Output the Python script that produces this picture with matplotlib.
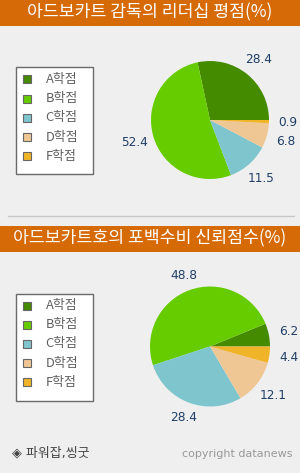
import numpy as np
import matplotlib.pyplot as plt
from matplotlib.patches import Rectangle

plt.rcParams['font.family'] = ['Noto Sans CJK KR', 'DejaVu Sans']

grades = ["A학점", "B학점", "C학점", "D학점", "F학점"]
colors = ["#458b00", "#66cc00", "#7ec5ce", "#efc795", "#f0b428"]

title1 = "아드보카트 감독의 리더십 평점(%)"
leader = [28.4, 52.4, 11.5, 6.8, 0.9]

title2 = "아드보카트호의 포백수비 신뢰점수(%)"
defense = [6.2, 48.8, 28.4, 12.1, 4.4]

W, H = 300, 473
BG = "#efefef"
ORANGE = "#d66a06"
LABEL = "#1f3f66"

fig = plt.figure(figsize=(W / 100, H / 100), dpi=100, facecolor=BG)

# full-figure overlay in pixel units
bg = fig.add_axes([0, 0, 1, 1])
bg.set_xlim(0, W)
bg.set_ylim(H, 0)
bg.axis("off")


def draw_block(title, values, top, cy, r, leg_top, leg_h):
    # title bar
    bg.add_patch(Rectangle((0, top), W, 26, color=ORANGE, lw=0))
    bg.text(W / 2, top + 12.5, title, color="white", fontsize=12.4,
            fontweight="medium", ha="center", va="center")

    # legend box
    bg.add_patch(Rectangle((16, leg_top), 77, leg_h, facecolor="white",
                           edgecolor="#6a6a6a", lw=1))
    for i, (g, c) in enumerate(zip(grades, colors)):
        y = leg_top + 12 + i * 19.2
        bg.add_patch(Rectangle((22.5, y - 4), 8, 8, facecolor=c,
                               edgecolor="#666666", lw=0.8))
        bg.text(45.5, y, g, color="#606060", fontsize=9.3,
                ha="left", va="center")

    # pie
    half = 100
    ax = fig.add_axes([(210 - half) / W, 1 - (cy + half) / H,
                       2 * half / W, 2 * half / H])
    lim = half / r
    wedges, _ = ax.pie(values, colors=colors, startangle=0,
                       counterclock=True, radius=1,
                       wedgeprops=dict(linewidth=0))
    ax.set_xlim(-lim, lim)
    ax.set_ylim(-lim, lim)
    ax.set_aspect("equal")
    ax.axis("off")
    for w, v in zip(wedges, values):
        a = np.deg2rad((w.theta1 + w.theta2) / 2)
        d = 1.12 + 0.2 * abs(np.cos(a)) + 0.085 * abs(np.sin(a))
        ax.text(d * np.cos(a), d * np.sin(a), f"{v:.1f}", color=LABEL,
                fontsize=8.7, family="DejaVu Sans", ha="center", va="center")


draw_block(title1, leader, 0, 120, 59, 67.5, 107)
bg.plot([8, 294], [215.5, 215.5], color="#c8c8c8", lw=1)
draw_block(title2, defense, 226, 346.5, 60, 293.5, 107)

bg.text(12, 453, "◈ 파워잡,씽굿", color="#444444", fontsize=9.3,
        family=["DejaVu Sans", "Noto Sans CJK KR"], ha="left", va="center")
bg.text(292, 454, "copyright datanews", color="#999999", fontsize=8,
        family="DejaVu Sans", ha="right", va="center")

fig.savefig("out.png", dpi=100, facecolor=BG)
